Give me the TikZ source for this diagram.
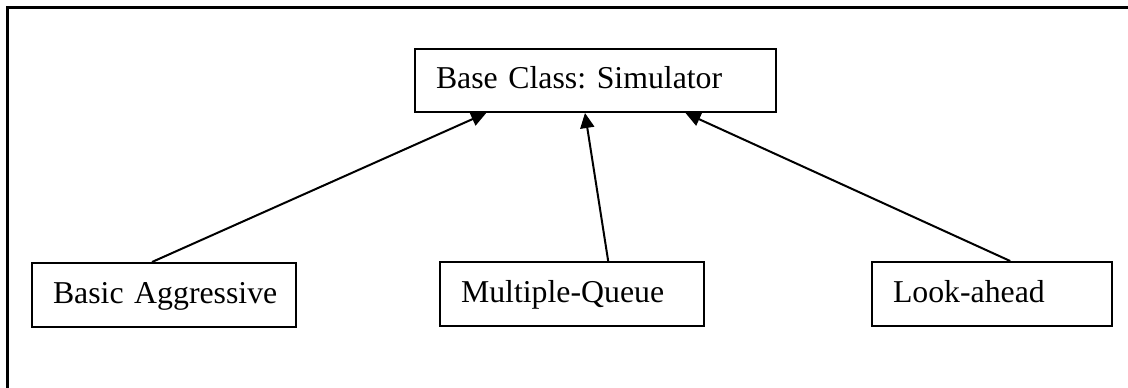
\documentclass[tikz,border=0pt]{standalone}
\usepackage{fontspec}
\setmainfont{Liberation Serif}
\usetikzlibrary{arrows.meta,calc}

\newcommand{\classlabelfont}{\fontsize{31.8}{38}\selectfont\frenchspacing}
\hyphenpenalty=10000

\tikzset{
  classbox/.style={draw=black, line width=2pt, rectangle, fill=white,
    inner xsep=21pt, inner ysep=0pt, align=left,
    text height=22pt, text depth=6pt, font=\classlabelfont},
  inherit/.style={draw=black, line width=2pt,
    -{Triangle[length=15pt,width=14pt]}},
  frameline/.style={draw=black, line width=2.2pt}
}

\begin{document}
\begin{tikzpicture}[x=1pt,y=-1pt]
  \useasboundingbox (0,0) rectangle (1128,388);

  % surrounding frame (only its top and left edges fall inside the page)
  \coordinate (fbl) at (7.5,388);
  \coordinate (ftl) at (7.5,7.5);
  \coordinate (ftr) at (1128,7.5);
  \draw[frameline] (fbl) -- (ftl) -- (ftr);

  % class boxes
  \node[classbox, minimum width=361pt, minimum height=63pt, text width=319pt]
    (base) at (595.5,80.5) {Base Class: Simulator};
  \node[classbox, minimum width=264pt, minimum height=64pt, text width=222pt]
    (ba) at (164,295) {Basic~Aggressive};
  \node[classbox, minimum width=264pt, minimum height=64pt, text width=222pt]
    (mq) at (572,294) {Multiple-Queue};
  \node[classbox, minimum width=240pt, minimum height=64pt, text width=198pt]
    (la) at (992,294) {Look-ahead};

  % inheritance arrows
  \draw[inherit] ($(ba.north west)!0.455!(ba.north east)$)
    -- ($(base.south west)!0.199!(base.south east)$);
  \draw[inherit] ($(mq.north west)!0.636!(mq.north east)$)
    -- ($(base.south west)!0.471!(base.south east)$);
  \draw[inherit] ($(la.north west)!0.575!(la.north east)$)
    -- ($(base.south west)!0.748!(base.south east)$);
\end{tikzpicture}
\end{document}
